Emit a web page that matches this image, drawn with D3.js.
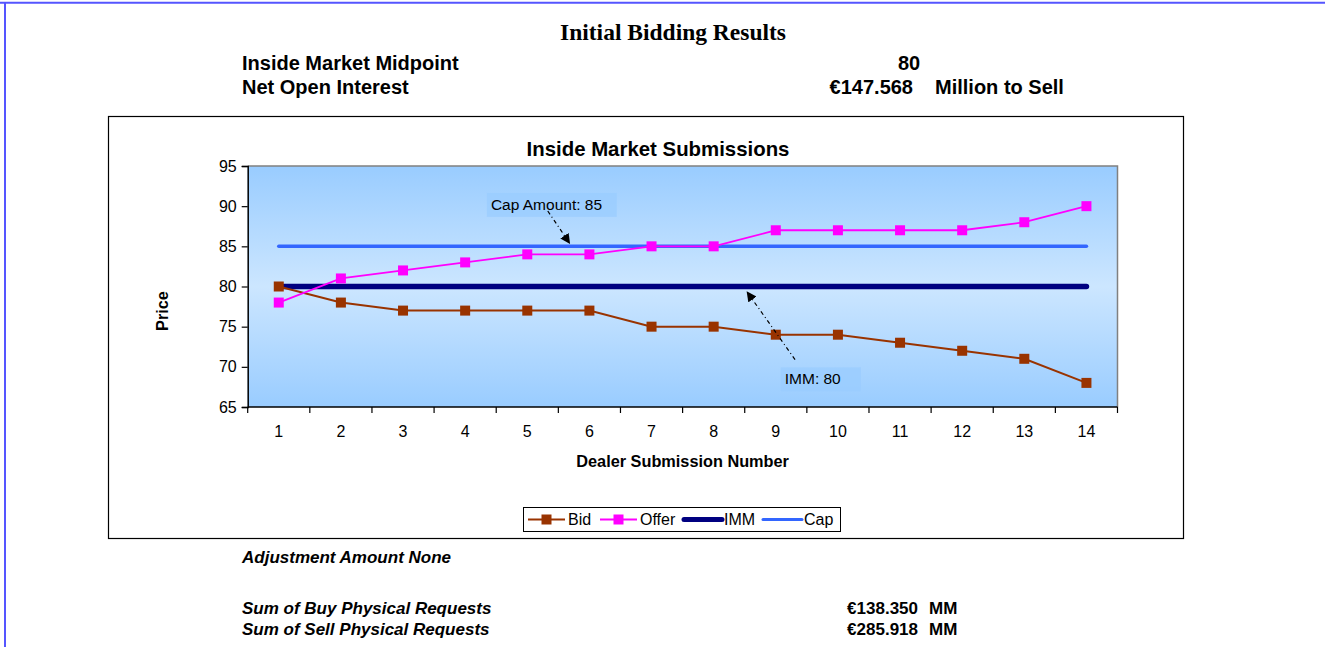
<!DOCTYPE html>
<html>
<head>
<meta charset="utf-8">
<script src="https://cdn.jsdelivr.net/npm/d3@7"></script>
<style>
  html, body { margin: 0; padding: 0; background: #fff; }
  svg { display: block; }
  text { font-family: "Liberation Sans", Arial, sans-serif; fill: #000; }
</style>
</head>
<body>
<svg id="chart" width="1325" height="647"></svg>
<script>
// ---------- data ----------
const categories = [1, 2, 3, 4, 5, 6, 7, 8, 9, 10, 11, 12, 13, 14];
const bidValues   = [80, 78, 77, 77, 77, 77, 75, 75, 74, 74, 73, 72, 71, 68];
const offerValues = [78, 81, 82, 83, 84, 84, 85, 85, 87, 87, 87, 87, 88, 90];
const immValues   = [80, 80, 80, 80, 80, 80, 80, 80, 80, 80, 80, 80, 80, 80];
const capValues   = [85, 85, 85, 85, 85, 85, 85, 85, 85, 85, 85, 85, 85, 85];
const yTicks = [65, 70, 75, 80, 85, 90, 95];
const seriesNames = ["Bid", "Offer", "IMM", "Cap"];

const pageTitle = "Initial Bidding Results";
const headerRows = [
  ["Inside Market Midpoint", "80", ""],
  ["Net Open Interest", "€147.568", "Million to Sell"]
];
const chartTitle = "Inside Market Submissions";
const xTitle = "Dealer Submission Number";
const yTitle = "Price";
const adjustmentText = "Adjustment Amount None";
const sumRows = [
  ["Sum of Buy Physical Requests", "€138.350", "MM"],
  ["Sum of Sell Physical Requests", "€285.918", "MM"]
];
// annotations in data units: [label, boxX0, boxX1, boxYtop, boxYbottom, arrowFromX, arrowFromY, arrowToX, arrowToY]
const capNote = ["Cap Amount: 85", 4.35, 6.44, 91.65, 88.67, 5.33, 89.4, 5.68, 85.4];
const immNote = ["IMM: 80", 9.08, 10.37, 69.94, 66.96, 9.31, 70.9, 8.54, 79.3];

// ---------- layout ----------
const svg = d3.select("#chart");
const plot = { left: 247.7, right: 1117.5, top: 166, bottom: 407 };

const x = d3.scaleBand().domain(categories).range([plot.left, plot.right]).paddingInner(0).paddingOuter(0);
const xc = d => x(d) + x.bandwidth() / 2;
const xLin = d3.scaleLinear().domain([0.5, categories.length + 0.5]).range([plot.left, plot.right]);
const y = d3.scaleLinear().domain([65, 95]).range([plot.bottom, plot.top]);

const colors = { Bid: "#993300", Offer: "#ff00ff", IMM: "#000080", Cap: "#3366ff" };

// page frame (blue border lines top & left)
svg.append("line").attr("x1", 0).attr("x2", 1325).attr("y1", 2.8).attr("y2", 2.8)
  .attr("stroke", "#5555ff").attr("stroke-width", 2);
svg.append("line").attr("x1", 5).attr("x2", 5).attr("y1", 2).attr("y2", 647)
  .attr("stroke", "#5555ff").attr("stroke-width", 2);

// page header
svg.append("text").attr("x", 673).attr("y", 40).attr("text-anchor", "middle")
  .style("font-family", "'Liberation Serif', 'Times New Roman', serif")
  .style("font-weight", "bold").style("font-size", "23.5px").text(pageTitle);

const headerY = [70, 94];
const hfs = "20px";
headerRows.forEach((r, i) => {
  svg.append("text").attr("x", 242).attr("y", headerY[i])
    .style("font-weight", "bold").style("font-size", hfs).text(r[0]);
  if (i === 0) {
    svg.append("text").attr("x", 909).attr("y", headerY[i]).attr("text-anchor", "middle")
      .style("font-weight", "bold").style("font-size", hfs).text(r[1]);
  } else {
    svg.append("text").attr("x", 913).attr("y", headerY[i]).attr("text-anchor", "end")
      .style("font-weight", "bold").style("font-size", hfs).text(r[1]);
    svg.append("text").attr("x", 935).attr("y", headerY[i])
      .style("font-weight", "bold").style("font-size", hfs).text(r[2]);
  }
});

// chart box
svg.append("rect").attr("x", 108.5).attr("y", 116.5).attr("width", 1075).attr("height", 422)
  .attr("fill", "#fff").attr("stroke", "#000").attr("stroke-width", 1.2);

// plot background gradient
const defs = svg.append("defs");
const grad = defs.append("linearGradient").attr("id", "bg").attr("x1", 0).attr("x2", 0).attr("y1", 0).attr("y2", 1);
grad.append("stop").attr("offset", "0%").attr("stop-color", "#99ccff");
grad.append("stop").attr("offset", "50%").attr("stop-color", "#cce6ff");
grad.append("stop").attr("offset", "100%").attr("stop-color", "#99ccff");
defs.append("marker").attr("id", "arrow").attr("viewBox", "0 0 10 10")
  .attr("refX", 9).attr("refY", 5).attr("markerWidth", 10).attr("markerHeight", 10)
  .attr("markerUnits", "userSpaceOnUse").attr("orient", "auto")
  .append("path").attr("d", "M0,0 L10,5 L0,10 z").attr("fill", "#000");

svg.append("rect").attr("x", plot.left).attr("y", plot.top)
  .attr("width", plot.right - plot.left).attr("height", plot.bottom - plot.top)
  .attr("fill", "url(#bg)");
// gray top/right plot border
svg.append("path")
  .attr("d", `M${plot.left},${plot.top}H${plot.right}V${plot.bottom}`)
  .attr("fill", "none").attr("stroke", "#808080").attr("stroke-width", 1.5);

// chart title
svg.append("text").attr("x", 658).attr("y", 156).attr("text-anchor", "middle")
  .style("font-weight", "bold").style("font-size", "20.4px").text(chartTitle);

// y axis
const yAxis = svg.append("g").attr("transform", `translate(${plot.left},0)`)
  .call(d3.axisLeft(y).tickValues(yTicks).tickSize(6).tickPadding(5));
yAxis.select(".domain").attr("stroke", "#000").attr("stroke-width", 1.5);
yAxis.selectAll(".tick line").attr("stroke", "#000").attr("stroke-width", 1.2);
yAxis.selectAll(".tick text").style("font-size", "16px").style("font-family", "'Liberation Sans', Arial, sans-serif").attr("fill", "#000");

// x axis: ticks at band boundaries
const xAxis = svg.append("g").attr("transform", `translate(0,${plot.bottom})`);
xAxis.append("line").attr("x1", plot.left).attr("x2", plot.right).attr("y1", 0).attr("y2", 0)
  .attr("stroke", "#000").attr("stroke-width", 1.5);
const boundaries = categories.map(c => x(c)).concat([plot.right]);
xAxis.selectAll("line.tk").data(boundaries).join("line").attr("class", "tk")
  .attr("x1", d => d).attr("x2", d => d).attr("y1", 0).attr("y2", 6)
  .attr("stroke", "#000").attr("stroke-width", 1.2);
xAxis.selectAll("text.lbl").data(categories).join("text").attr("class", "lbl")
  .attr("x", d => xc(d)).attr("y", 30).attr("text-anchor", "middle")
  .style("font-size", "16px").text(d => d);

// axis titles
svg.append("text").attr("x", (plot.left + plot.right) / 2).attr("y", 467).attr("text-anchor", "middle")
  .style("font-weight", "bold").style("font-size", "16.3px").text(xTitle);
svg.append("text").attr("transform", "translate(168,311) rotate(-90)").attr("text-anchor", "middle")
  .style("font-weight", "bold").style("font-size", "16.3px").text(yTitle);

// series
const lineGen = d3.line().x((d, i) => xc(categories[i])).y(d => y(d));
svg.append("path").datum(capValues).attr("d", lineGen).attr("fill", "none")
  .attr("stroke", colors.Cap).attr("stroke-width", 3.5).attr("stroke-linecap", "round");
svg.append("path").datum(immValues).attr("d", lineGen).attr("fill", "none")
  .attr("stroke", colors.IMM).attr("stroke-width", 5.5).attr("stroke-linecap", "round");

const ms = 10;
svg.append("path").datum(bidValues).attr("d", lineGen).attr("fill", "none")
  .attr("stroke", colors.Bid).attr("stroke-width", 2);
svg.append("path").datum(offerValues).attr("d", lineGen).attr("fill", "none")
  .attr("stroke", colors.Offer).attr("stroke-width", 1.8);
svg.selectAll("rect.bid").data(bidValues).join("rect").attr("class", "bid")
  .attr("x", (d, i) => xc(categories[i]) - ms / 2).attr("y", d => y(d) - ms / 2)
  .attr("width", ms).attr("height", ms).attr("fill", colors.Bid);
svg.selectAll("rect.offer").data(offerValues).join("rect").attr("class", "offer")
  .attr("x", (d, i) => xc(categories[i]) - ms / 2).attr("y", d => y(d) - ms / 2)
  .attr("width", ms).attr("height", ms).attr("fill", colors.Offer);

// annotations
function note(n) {
  const [label, bx0, bx1, byt, byb, ax0, ay0, ax1, ay1] = n;
  svg.append("rect").attr("x", xLin(bx0)).attr("y", y(byt))
    .attr("width", xLin(bx1) - xLin(bx0)).attr("height", y(byb) - y(byt))
    .attr("fill", "#99ccff").attr("opacity", 0.75);
  svg.append("text").attr("x", xLin(bx0) + 4).attr("y", y(byt) + 17)
    .style("font-size", "15.5px").text(label);
  svg.append("line").attr("x1", xLin(ax0)).attr("y1", y(ay0)).attr("x2", xLin(ax1)).attr("y2", y(ay1))
    .attr("stroke", "#000").attr("stroke-width", 1.2).attr("stroke-dasharray", "4,3,1,3")
    .attr("marker-end", "url(#arrow)");
}
note(capNote);
note(immNote);

// legend
const lg = svg.append("g");
lg.append("rect").attr("x", 523.5).attr("y", 507.5).attr("width", 317).attr("height", 24)
  .attr("fill", "#fff").attr("stroke", "#000").attr("stroke-width", 1);
const legendItems = [
  { name: "Bid", x0: 528, x1: 565, tx: 568, marker: true, w: 2 },
  { name: "Offer", x0: 600, x1: 637, tx: 640, marker: true, w: 1.8 },
  { name: "IMM", x0: 684, x1: 722, tx: 724, marker: false, w: 5 },
  { name: "Cap", x0: 763, x1: 802, tx: 804, marker: false, w: 3 }
];
const ly = 519.5;
legendItems.forEach(it => {
  lg.append("line").attr("x1", it.x0).attr("x2", it.x1).attr("y1", ly).attr("y2", ly)
    .attr("stroke", colors[it.name]).attr("stroke-width", it.w).attr("stroke-linecap", it.marker ? "butt" : "round");
  if (it.marker) {
    lg.append("rect").attr("x", (it.x0 + it.x1) / 2 - 5).attr("y", ly - 5).attr("width", 10).attr("height", 10)
      .attr("fill", colors[it.name]);
  }
  lg.append("text").attr("x", it.tx).attr("y", ly + 5.5).style("font-size", "16px").text(it.name);
});

// bottom texts
const bfs = "17px";
svg.append("text").attr("x", 242).attr("y", 563)
  .style("font-weight", "bold").style("font-style", "italic").style("font-size", bfs).text(adjustmentText);
const sumY = [614, 635];
sumRows.forEach((r, i) => {
  svg.append("text").attr("x", 242).attr("y", sumY[i])
    .style("font-weight", "bold").style("font-style", "italic").style("font-size", bfs).text(r[0]);
  svg.append("text").attr("x", 918).attr("y", sumY[i]).attr("text-anchor", "end")
    .style("font-weight", "bold").style("font-size", bfs).text(r[1]);
  svg.append("text").attr("x", 929).attr("y", sumY[i])
    .style("font-weight", "bold").style("font-size", bfs).text(r[2]);
});
</script>
</body>
</html>
